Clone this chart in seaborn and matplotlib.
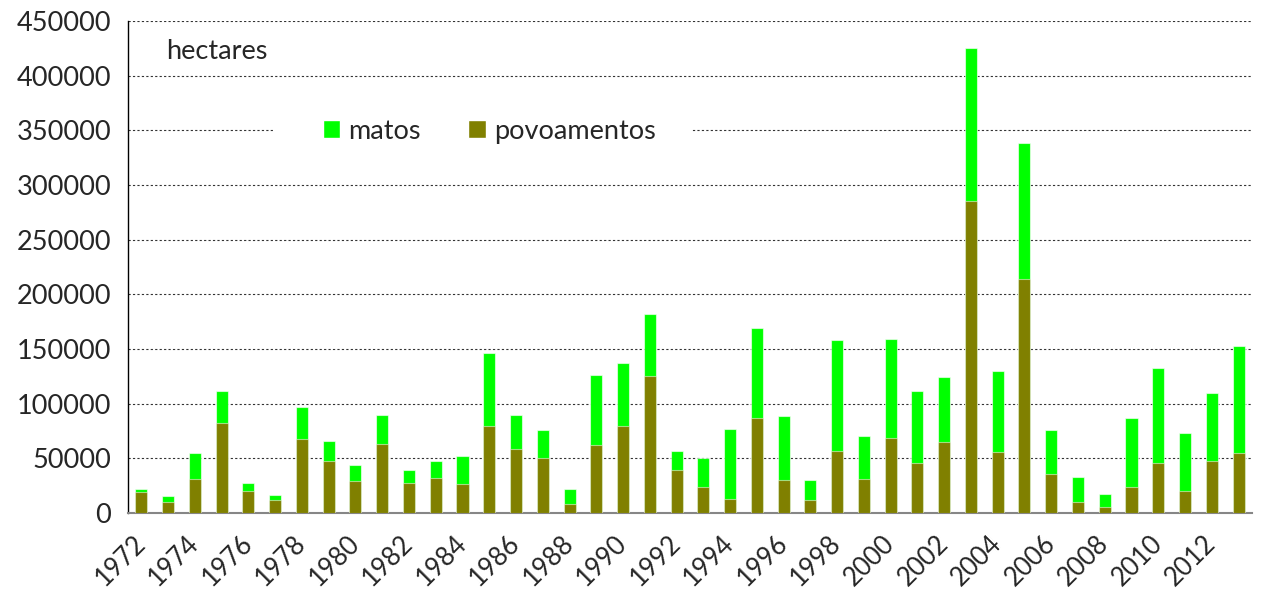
import numpy as np
import pandas as pd
import matplotlib
matplotlib.use("Agg")
import matplotlib.pyplot as plt
import seaborn as sns
from matplotlib.patches import Patch, Rectangle
from matplotlib.ticker import FixedLocator

years = [str(y) for y in range(1972, 2014)]
povoamentos = [19200, 10000, 31400, 82000, 20400, 11900, 67700, 47600, 29000, 63400,
               27100, 32000, 26200, 79600, 58300, 50000, 8500, 62200, 79600, 125400,
               39300, 23800, 13100, 87200, 30500, 11600, 57000, 31100, 68900, 45400,
               65000, 285700, 55800, 213700, 35700, 9800, 5500, 24100, 45750, 19800,
               47600, 54600]
matos = [2500, 5300, 23500, 29600, 6700, 4900, 29600, 18600, 14900, 26300,
         11900, 15900, 26300, 66600, 31100, 26300, 13800, 63800, 57400, 56700,
         17400, 26200, 64100, 82100, 58300, 18900, 101300, 39400, 90600, 66600,
         59100, 139900, 73800, 124700, 40200, 22800, 11900, 63100, 87250, 53700,
         62500, 98200]

df = pd.DataFrame({"ano": years, "povoamentos": povoamentos, "matos": matos})
df["total"] = df["povoamentos"] + df["matos"]

sns.set_style("white")
plt.rcParams["font.family"] = ["Lato", "DejaVu Sans"]
fs = 19.5

verde = "#00ff00"
oliva = "#808000"

fig = plt.figure(figsize=(12.61, 5.96), dpi=100)
ax = fig.add_axes([0.1015, 0.1393, 0.8913, 0.8255])

sns.barplot(data=df, x="ano", y="total", order=years, color=verde, width=0.45,
            saturation=1, edgecolor=(1, 1, 1, 0.6), linewidth=0.8, ax=ax, zorder=2)
sns.barplot(data=df, x="ano", y="povoamentos", order=years, color=oliva, width=0.45,
            saturation=1, edgecolor=(1, 1, 1, 0.5), linewidth=0.8, ax=ax, zorder=3)

ax.set_xlim(-0.5, len(years) - 0.5)
ax.set_ylim(0, 450000)
ax.set_yticks(np.arange(0, 450001, 50000))
ax.set_yticklabels([str(v) for v in range(0, 450001, 50000)], fontsize=fs)
ax.yaxis.grid(True, color="#333333", linestyle=(0, (2, 2)), linewidth=0.8)
ax.set_axisbelow(True)

ax.set_xticks(range(0, len(years), 2))
ax.set_xticklabels(years[::2], rotation=45, ha="right", va="center",
                   rotation_mode="anchor", fontsize=18.5)
ax.xaxis.set_minor_locator(FixedLocator(np.arange(-0.5, len(years), 1)))
ax.tick_params(axis="x", which="major", length=0, pad=19)
ax.tick_params(axis="x", which="minor", length=7, width=1, color="#222222", direction="out")
ax.tick_params(axis="y", length=7, width=1, color="#222222", direction="out", pad=5)
ax.set_xlabel("")
ax.set_ylabel("")

for s in ["top", "right"]:
    ax.spines[s].set_visible(False)
ax.spines["left"].set_color("black")
ax.spines["left"].set_linewidth(1)
ax.spines["bottom"].set_color("#868686")
ax.spines["bottom"].set_linewidth(1.5)

ax.text(0.034, 0.937, "hectares", transform=ax.transAxes, fontsize=fs,
        ha="left", va="center")

# fundo branco da legenda
ax.add_patch(Rectangle((0.129, 0.74), 0.372, 0.07, transform=ax.transAxes,
                       facecolor="white", edgecolor="none", zorder=1))
handles = [Patch(facecolor=verde, label="matos"), Patch(facecolor=oliva, label="povoamentos")]
ax.legend(handles=handles, ncol=2, frameon=False, fontsize=fs,
          loc="center left", bbox_to_anchor=(0.1733, 0.776),
          handlelength=0.65, handleheight=0.65, handletextpad=0.3,
          columnspacing=1.75, borderpad=0, borderaxespad=0)

fig.savefig("out.png", dpi=100)
